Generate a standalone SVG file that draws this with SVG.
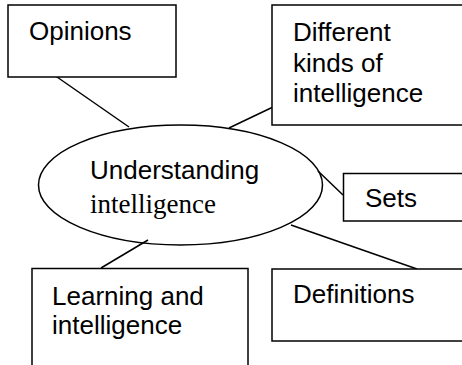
<svg xmlns="http://www.w3.org/2000/svg" width="462" height="365" viewBox="0 0 462 365">
<style>
.box{fill:#fff;stroke:#000;stroke-width:1.5}
.ln{stroke:#000;stroke-width:1.5;fill:none}
.t{font-family:"Liberation Sans",Arial,sans-serif;font-size:26px;fill:#000}
.s{font-family:"Liberation Serif","Times New Roman",serif;font-size:27px;fill:#000}
</style>
<rect width="462" height="365" fill="#fff"/>
<g id="connectors">
<line class="ln" x1="57" y1="77" x2="129" y2="127"/>
<line class="ln" x1="229" y1="128" x2="273" y2="107"/>
<line class="ln" x1="318" y1="171" x2="343" y2="195"/>
<line class="ln" x1="291" y1="225" x2="417" y2="269"/>
<line class="ln" x1="148" y1="240" x2="101" y2="268"/>
</g>
<g id="center">
<ellipse class="box" style="fill:none" cx="180.5" cy="185" rx="142" ry="60"/>
<text class="t" x="90" y="179">Understanding</text>
<text class="s" x="90" y="213">intelligence</text>
</g>
<g id="opinions">
<rect class="box" x="8" y="5" width="168" height="72"/>
<text class="t" x="29" y="40">Opinions</text>
</g>
<g id="kinds">
<rect class="box" x="272" y="5" width="200" height="120"/>
<text class="t" x="293" y="41">Different</text>
<text class="t" x="293" y="71.5">kinds of</text>
<text class="t" x="293" y="101.5">intelligence</text>
</g>
<g id="sets">
<rect class="box" x="343.5" y="173.5" width="130" height="47.5"/>
<text class="t" x="365" y="207">Sets</text>
</g>
<g id="learning">
<rect class="box" x="32" y="268.5" width="216" height="100"/>
<text class="t" x="52" y="305">Learning and</text>
<text class="t" x="52" y="334">intelligence</text>
</g>
<g id="definitions">
<rect class="box" x="272" y="269" width="200" height="72"/>
<text class="t" x="293" y="303">Definitions</text>
</g>
</svg>
